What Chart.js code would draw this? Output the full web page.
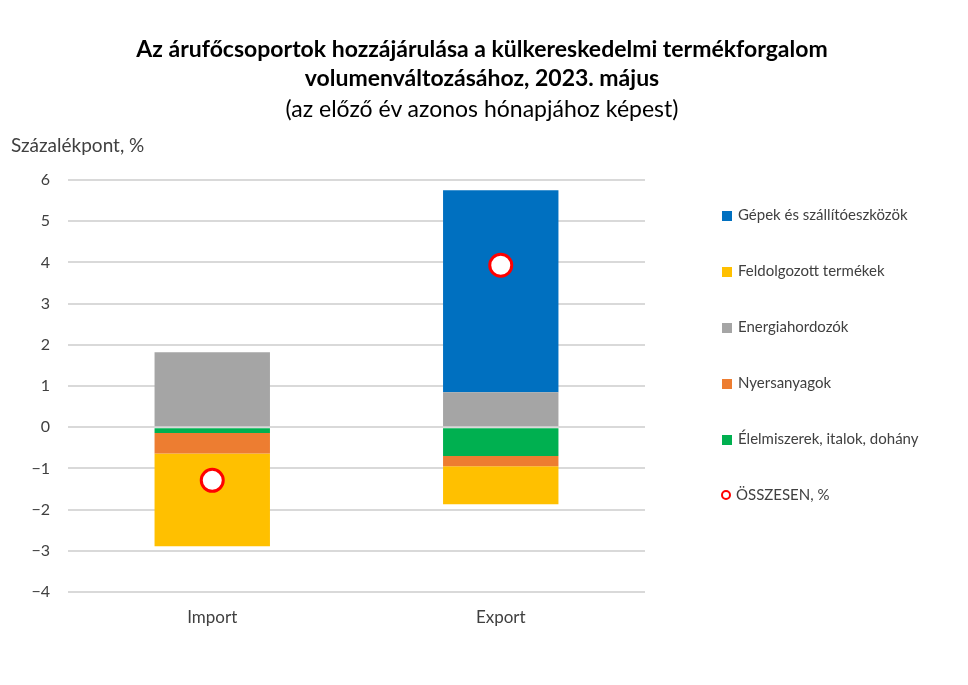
<!DOCTYPE html>
<html>
<head>
<meta charset="utf-8">
<script src="https://cdn.jsdelivr.net/npm/chart.js"></script>
<style>
  body { margin: 0; background: #fff; font-family: Lato, "Open Sans", sans-serif; }
  #wrap { position: relative; width: 968px; height: 685px; }
  canvas { position: absolute; left: 0; top: 0; }
  .t { position: absolute; left: 0; width: 964px; text-align: center; color: #000; font-size: 23px; line-height: 28px; }
  .b { font-weight: bold; }
  #ytitle { position: absolute; left: 11px; top: 133px; font-size: 19px; color: #404040; }
  #legend { position: absolute; left: 722px; top: 0; }
  .li { position: absolute; left: 0; white-space: nowrap; font-size: 15px; color: #404040; line-height: 20px; }
  .sw { display: inline-block; width: 10px; height: 10px; margin-right: 6px; vertical-align: -1px; }
  .dot { display: inline-block; width: 6px; height: 6px; border: 2.5px solid #ff0000; border-radius: 50%; margin-right: 5px; vertical-align: 0px; margin-left: -1px; }
</style>
</head>
<body>
<div id="wrap">
  <canvas id="chart" width="968" height="685"></canvas>
  <div class="t b" style="top:34px">Az árufőcsoportok hozzájárulása a külkereskedelmi termékforgalom</div>
  <div class="t b" style="top:63px">volumenváltozásához, 2023. május</div>
  <div class="t" style="top:94px">(az előző év azonos hónapjához képest)</div>
  <div id="ytitle">Százalékpont, %</div>
  <div id="legend"></div>
</div>
<script>
// Categories and contributions (percentage points)
const categories = ['Import', 'Export'];
const elelmiszer = [-0.14, -0.70];   // Élelmiszerek, italok, dohány
const nyersanyag = [-0.50, -0.25];   // Nyersanyagok
const energia = [1.82, 0.85];        // Energiahordozók
const feldolgozott = [-2.25, -0.92]; // Feldolgozott termékek
const gepek = [0, 4.90];             // Gépek és szállítóeszközök
const osszesen = [-1.29, 3.93];      // ÖSSZESEN, %
const yTicks = [-4, -3, -2, -1, 0, 1, 2, 3, 4, 5, 6];

const barSeries = [
  { label: 'Élelmiszerek, italok, dohány', data: elelmiszer, color: '#00B050' },
  { label: 'Nyersanyagok', data: nyersanyag, color: '#ED7D31' },
  { label: 'Energiahordozók', data: energia, color: '#A5A5A5' },
  { label: 'Feldolgozott termékek', data: feldolgozott, color: '#FFC000' },
  { label: 'Gépek és szállítóeszközök', data: gepek, color: '#0070C0' }
];

const datasets = barSeries.map(s => ({
  type: 'bar',
  label: s.label,
  data: s.data,
  backgroundColor: s.color,
  stack: 'parts',
  order: 1,
  barPercentage: 0.4,
  categoryPercentage: 1
}));
datasets.push({
  type: 'line',
  label: 'ÖSSZESEN, %',
  data: osszesen,
  stack: 'total',
  order: 0,
  showLine: false,
  pointRadius: 11,
  pointHoverRadius: 11,
  pointBackgroundColor: '#ffffff',
  pointBorderColor: '#ff0000',
  pointBorderWidth: 3
});

const ctx = document.getElementById('chart').getContext('2d');
const chart = new Chart(ctx, {
  data: { labels: categories, datasets: datasets },
  options: {
    responsive: false,
    animation: false,
    layout: { padding: { top: 180, right: 323, left: 0, bottom: 0 } },
    plugins: { legend: { display: false }, tooltip: { enabled: false } },
    scales: {
      x: {
        stacked: true,
        grid: { display: false },
        border: { display: false },
        ticks: { color: '#404040', font: { family: 'Lato', size: 17 }, padding: 7 },
        afterFit: s => { s.height = 93; }
      },
      y: {
        stacked: true,
        min: -4,
        max: 6,
        afterBuildTicks: s => { s.ticks = yTicks.map(v => ({ value: v })); },
        afterFit: s => { s.width = 68; },
        grid: { color: '#d9d9d9', lineWidth: 2, drawTicks: false },
        border: { display: false },
        ticks: {
          color: '#404040',
          font: { family: 'Lato', size: 16 },
          padding: 18,
          callback: v => String(v).replace('-', '\u2212')
        }
      }
    }
  }
});

// Legend, in the same order as the reference (top series first)
const legendItems = barSeries.slice().reverse().map(s => ({ label: s.label, color: s.color }));
legendItems.push({ label: 'ÖSSZESEN, %', dot: true });
const legend = document.getElementById('legend');
legendItems.forEach((it, i) => {
  const row = document.createElement('div');
  row.className = 'li';
  row.style.top = (204 + i * 56) + 'px';
  const mark = document.createElement('span');
  if (it.dot) {
    mark.className = 'dot';
  } else {
    mark.className = 'sw';
    mark.style.background = it.color;
  }
  row.appendChild(mark);
  row.appendChild(document.createTextNode(it.label));
  legend.appendChild(row);
});
</script>
</body>
</html>
